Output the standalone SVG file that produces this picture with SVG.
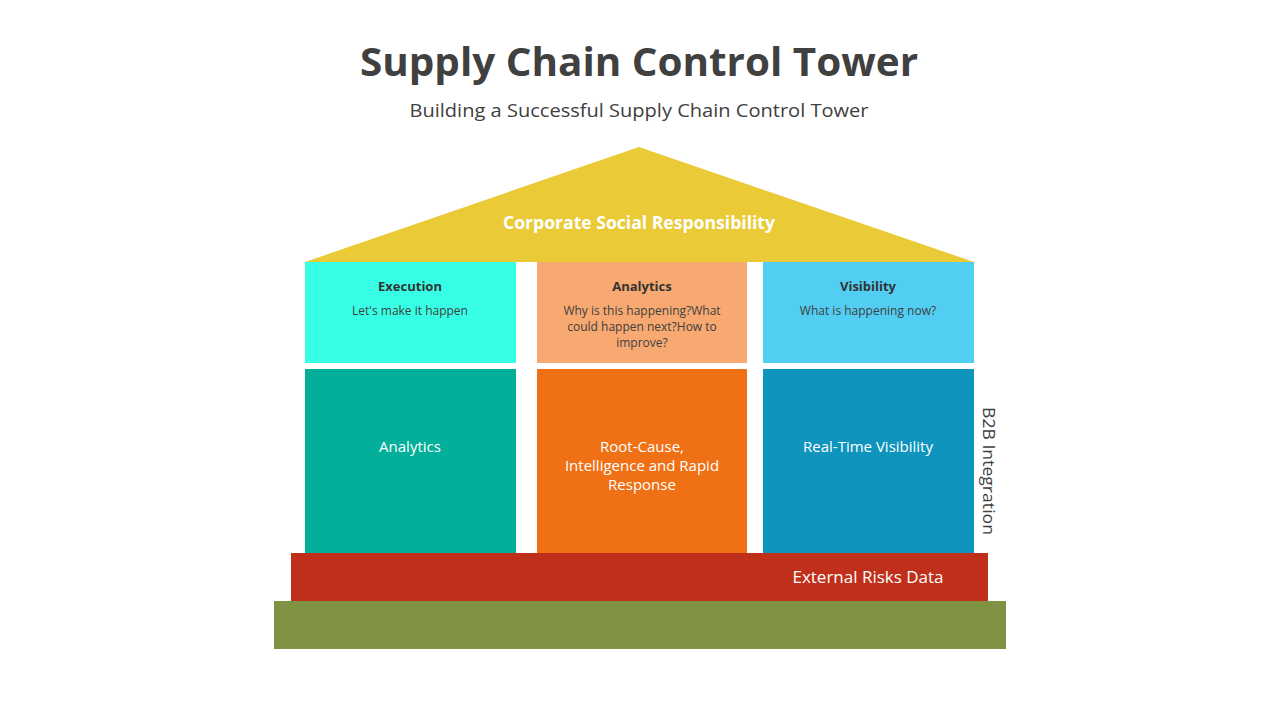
<svg xmlns="http://www.w3.org/2000/svg" width="1280" height="720" viewBox="0 0 1280 720">
<style>
text{font-family:"Open Sans","Noto Sans","Liberation Sans",sans-serif;text-anchor:middle}
.title{font-size:40px;font-weight:700;fill:#404040}
.sub{font-size:19px;fill:#404040}
.hd{font-size:13px;font-weight:700;fill:#333}
.ds{font-size:12px;fill:#404040}
.wt{font-size:15px;fill:#fff}
</style>
<rect width="1280" height="720" fill="#fff"/>
<text class="title" x="639" y="76" textLength="558" lengthAdjust="spacingAndGlyphs">Supply Chain Control Tower</text>
<text class="sub" x="639" y="117" textLength="459" lengthAdjust="spacingAndGlyphs">Building a Successful Supply Chain Control Tower</text>
<g id="roof">
<polygon points="639,147 974,262 305,262" fill="#EACA37"/>
<text x="639" y="229" style="font-size:18px;font-weight:700;fill:#fff" textLength="272" lengthAdjust="spacingAndGlyphs">Corporate Social Responsibility</text>
</g>
<g id="execution">
<rect x="305" y="262" width="211" height="101" fill="#37FFE5"/>
<text class="hd" x="410" y="291">Execution</text>
<text class="ds" x="410" y="315">Let's make it happen</text>
</g>
<g id="analytics-top">
<rect x="537" y="262" width="210" height="101" fill="#F7A971"/>
<text class="hd" x="642" y="291">Analytics</text>
<text class="ds" x="642" y="315">Why is this happening?What</text>
<text class="ds" x="642" y="331">could happen next?How to</text>
<text class="ds" x="642" y="347">improve?</text>
</g>
<g id="visibility">
<rect x="763" y="262" width="211" height="101" fill="#52CEF2"/>
<text class="hd" x="868" y="291">Visibility</text>
<text class="ds" x="868" y="315">What is happening now?</text>
</g>
<g id="analytics">
<rect x="305" y="369" width="211" height="184" fill="#03AF9A"/>
<text class="wt" x="410" y="452">Analytics</text>
</g>
<g id="root-cause">
<rect x="537" y="369" width="210" height="184" fill="#F07016"/>
<text class="wt" x="642" y="452">Root-Cause,</text>
<text class="wt" x="642" y="471">Intelligence and Rapid</text>
<text class="wt" x="642" y="490">Response</text>
</g>
<g id="real-time">
<rect x="763" y="369" width="211" height="184" fill="#0E94BD"/>
<text class="wt" x="868" y="452">Real-Time Visibility</text>
</g>
<g id="b2b">
<text x="983" y="471" transform="rotate(90 983 471)" style="font-size:17px;fill:#404040" textLength="128" lengthAdjust="spacingAndGlyphs">B2B Integration</text>
</g>
<g id="external">
<rect x="291" y="553" width="697" height="48" fill="#C02F1A"/>
<text x="868" y="583" style="font-size:17px;fill:#fff">External Risks Data</text>
</g>
<g id="base">
<rect x="274" y="601" width="732" height="48" fill="#7F9343"/>
</g>
<g id="connectors"/>
</svg>
